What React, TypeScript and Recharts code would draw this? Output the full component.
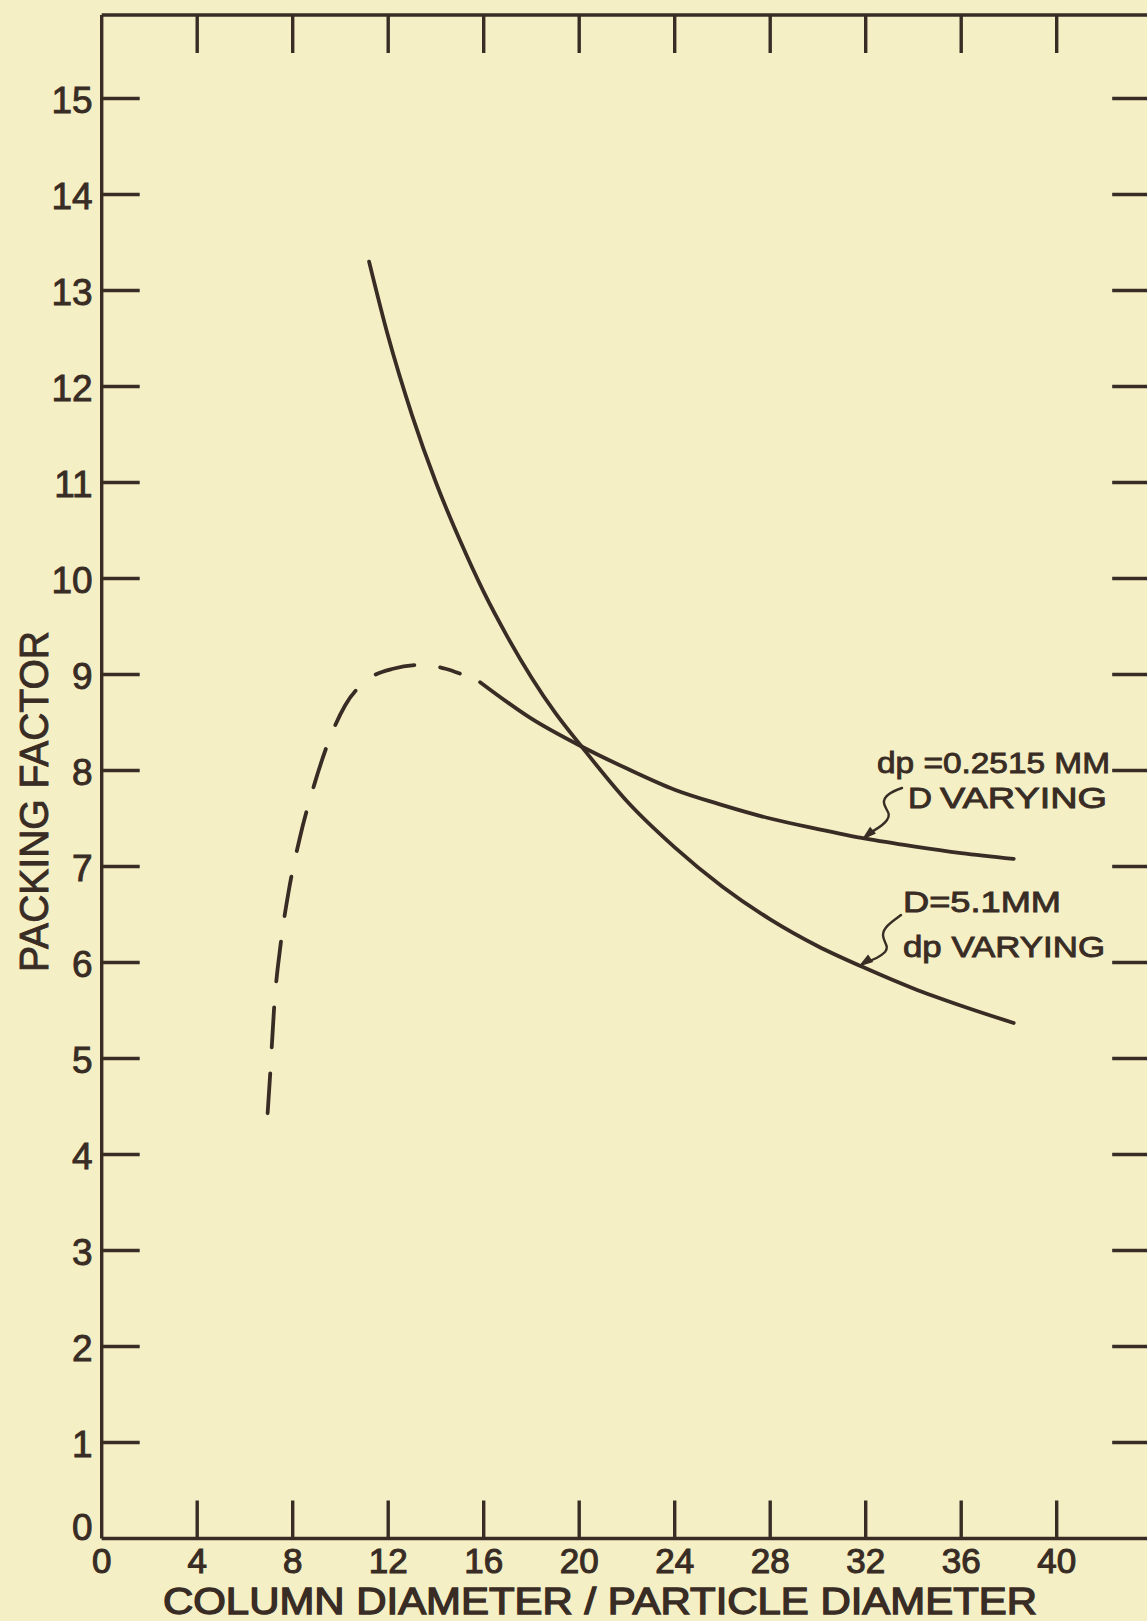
import { Line, LineChart, XAxis, YAxis } from "recharts";

// plot geometry (full-size pixels)
const CHART_W = 1200;
const CHART_H = 1621;
const PLOT_L = 101.7;
const PLOT_R = 1152.2;
const PLOT_T = 15;
const PLOT_B = 1538.5;

const INK = "#382c24";
const PAPER = "#f4efc5";
const FONT = "'Liberation Sans', Arial, sans-serif";

const X_DOMAIN: [number, number] = [0, 44];
const Y_DOMAIN: [number, number] = [0, 15.87];
const X_TICKS = [0, 4, 8, 12, 16, 20, 24, 28, 32, 36, 40];
const Y_TICKS = [0, 1, 2, 3, 4, 5, 6, 7, 8, 9, 10, 11, 12, 13, 14, 15];
const EDGE_X_TICKS = [4, 8, 12, 16, 20, 24, 28, 32, 36, 40];
const EDGE_Y_TICKS = [1, 2, 3, 4, 5, 6, 7, 8, 9, 10, 11, 12, 13, 14, 15];

// D = 5.1 mm, dp varying
const dpVarying = [
  { x: 11.2, y: 13.3 },
  { x: 12.0, y: 12.52 },
  { x: 13.0, y: 11.7 },
  { x: 14.0, y: 11.0 },
  { x: 15.0, y: 10.4 },
  { x: 16.0, y: 9.86 },
  { x: 17.0, y: 9.39 },
  { x: 18.0, y: 8.97 },
  { x: 19.0, y: 8.6 },
  { x: 20.1, y: 8.25 },
  { x: 22.0, y: 7.68 },
  { x: 24.0, y: 7.2 },
  { x: 26.0, y: 6.79 },
  { x: 28.0, y: 6.45 },
  { x: 30.0, y: 6.17 },
  { x: 32.0, y: 5.94 },
  { x: 34.0, y: 5.73 },
  { x: 36.0, y: 5.55 },
  { x: 38.2, y: 5.37 },
];

// dp = 0.2515 mm, D varying (measured part)
const dVarying = [
  { x: 15.85, y: 8.92 },
  { x: 18.0, y: 8.54 },
  { x: 20.1, y: 8.25 },
  { x: 22.0, y: 8.02 },
  { x: 24.0, y: 7.8 },
  { x: 26.0, y: 7.64 },
  { x: 28.0, y: 7.5 },
  { x: 30.0, y: 7.39 },
  { x: 32.0, y: 7.29 },
  { x: 34.0, y: 7.21 },
  { x: 36.0, y: 7.14 },
  { x: 38.2, y: 7.08 },
];

// dp = 0.2515 mm, extrapolated (dashed)
const dVaryingDashed = [
  { x: 6.95, y: 4.43 },
  { x: 7.05, y: 4.81 },
  { x: 7.23, y: 5.56 },
  { x: 7.5, y: 6.2 },
  { x: 7.83, y: 6.74 },
  { x: 8.3, y: 7.3 },
  { x: 8.9, y: 7.85 },
  { x: 9.5, y: 8.3 },
  { x: 10.2, y: 8.68 },
  { x: 11.1, y: 8.94 },
  { x: 12.2, y: 9.06 },
  { x: 13.4, y: 9.1 },
  { x: 14.4, y: 9.06 },
  { x: 15.0, y: 9.01 },
];

const TICK_LEN = 38;
const STROKE = 3.4;

function LeftTick(props: any) {
  const { x, y, payload } = props;
  const v = payload.value;
  return (
    <g>
      {v > 0 && <line x1={x} x2={x + TICK_LEN} y1={y} y2={y} stroke={INK} strokeWidth={STROKE} />}
      <text
        x={x - 9}
        y={v === 0 ? y - 11 : y + 2}
        textAnchor="end"
        dominantBaseline="central"
        fontSize={37}
        fontFamily={FONT}
        fill={INK}
        stroke={INK}
        strokeWidth={0.9}
      >
        {v}
      </text>
    </g>
  );
}

function RightTick(props: any) {
  const { x, y } = props;
  return <line x1={x - TICK_LEN - 2} x2={x} y1={y} y2={y} stroke={INK} strokeWidth={STROKE} />;
}

function BottomTick(props: any) {
  const { x, y, payload } = props;
  const v = payload.value;
  return (
    <g>
      {v > 0 && <line x1={x} x2={x} y1={y} y2={y - TICK_LEN} stroke={INK} strokeWidth={STROKE} />}
      <text
        x={x}
        y={y + 34}
        textAnchor="middle"
        fontSize={35}
        fontFamily={FONT}
        fill={INK}
        stroke={INK}
        strokeWidth={1.1}
      >
        {v}
      </text>
    </g>
  );
}

function TopTick(props: any) {
  const { x, y } = props;
  return <line x1={x} x2={x} y1={y} y2={y + TICK_LEN} stroke={INK} strokeWidth={STROKE} />;
}

function Leader({ d, tip, from }: { d: string; tip: [number, number]; from: [number, number] }) {
  const ang = Math.atan2(tip[1] - from[1], tip[0] - from[0]);
  const len = 15;
  const half = 4.5;
  const bx = tip[0] - len * Math.cos(ang);
  const by = tip[1] - len * Math.sin(ang);
  const nx = -Math.sin(ang) * half;
  const ny = Math.cos(ang) * half;
  return (
    <g>
      <path d={d} fill="none" stroke={INK} strokeWidth={2.4} strokeLinecap="round" />
      <polygon points={`${tip[0]},${tip[1]} ${bx + nx},${by + ny} ${bx - nx},${by - ny}`} fill={INK} />
    </g>
  );
}

export default function App() {
  const yAxisW = 60;
  const xAxisH = 50;
  const topAxisH = 10;
  const rightAxisW = 20;
  const margin = {
    top: PLOT_T - topAxisH,
    left: PLOT_L - yAxisW,
    right: CHART_W - PLOT_R - rightAxisW,
    bottom: CHART_H - PLOT_B - xAxisH,
  };
  const axisLine = { stroke: INK, strokeWidth: STROKE };
  const textInk = { fill: INK, stroke: INK, strokeWidth: 0.9 };

  return (
    <div style={{ position: "relative", width: 1147, height: 1621, overflow: "hidden", background: PAPER }}>
      <style>{`body{margin:0}`}</style>
      <LineChart width={CHART_W} height={CHART_H} margin={margin}>
        <XAxis
          xAxisId="bottom"
          type="number"
          dataKey="x"
          domain={X_DOMAIN}
          ticks={X_TICKS}
          interval={0}
          height={xAxisH}
          axisLine={axisLine}
          tickLine={false}
          tickSize={0}
          tickMargin={0}
          tick={<BottomTick />}
          allowDataOverflow
        />
        <XAxis
          xAxisId="top"
          orientation="top"
          type="number"
          dataKey="x"
          domain={X_DOMAIN}
          ticks={EDGE_X_TICKS}
          interval={0}
          height={topAxisH}
          axisLine={axisLine}
          tickLine={false}
          tickSize={0}
          tickMargin={0}
          tick={<TopTick />}
          allowDataOverflow
        />
        <YAxis
          yAxisId="left"
          type="number"
          domain={Y_DOMAIN}
          ticks={Y_TICKS}
          interval={0}
          width={yAxisW}
          axisLine={axisLine}
          tickLine={false}
          tickSize={0}
          tickMargin={0}
          tick={<LeftTick />}
          allowDataOverflow
        />
        <YAxis
          yAxisId="right"
          orientation="right"
          type="number"
          domain={Y_DOMAIN}
          ticks={EDGE_Y_TICKS}
          interval={0}
          width={rightAxisW}
          axisLine={axisLine}
          tickLine={false}
          tickSize={0}
          tickMargin={0}
          tick={<RightTick />}
          allowDataOverflow
        />
        <Line
          xAxisId="bottom"
          yAxisId="left"
          data={dVaryingDashed}
          dataKey="y"
          type="monotone"
          stroke={INK}
          strokeWidth={3.8}
          strokeDasharray="40 26"
          strokeLinecap="round"
          dot={false}
          activeDot={false}
          isAnimationActive={false}
        />
        <Line
          xAxisId="bottom"
          yAxisId="left"
          data={dVarying}
          dataKey="y"
          type="monotone"
          stroke={INK}
          strokeWidth={3.8}
          strokeLinecap="round"
          dot={false}
          activeDot={false}
          isAnimationActive={false}
        />
        <Line
          xAxisId="bottom"
          yAxisId="left"
          data={dpVarying}
          dataKey="y"
          type="monotone"
          stroke={INK}
          strokeWidth={3.8}
          strokeLinecap="round"
          dot={false}
          activeDot={false}
          isAnimationActive={false}
        />
      </LineChart>

      <svg
        width={1147}
        height={1621}
        style={{ position: "absolute", left: 0, top: 0, pointerEvents: "none" }}
        fontFamily={FONT}
      >
        <text
          x={163}
          y={1613.5}
          fontSize={36}
          textLength={874}
          lengthAdjust="spacingAndGlyphs"
          {...textInk}
          strokeWidth={1.3}
        >
          COLUMN DIAMETER / PARTICLE DIAMETER
        </text>
        <text
          transform="translate(48 972) rotate(-90)"
          fontSize={40}
          textLength={341}
          lengthAdjust="spacingAndGlyphs"
          {...textInk}
        >
          PACKING FACTOR
        </text>

        <text x={877} y={773} fontSize={30} textLength={233} lengthAdjust="spacingAndGlyphs" {...textInk}>
          dp =0.2515 MM
        </text>
        <text x={908} y={808} fontSize={30} textLength={24} lengthAdjust="spacingAndGlyphs" {...textInk}>
          D
        </text>
        <text x={940} y={808} fontSize={30} textLength={167} lengthAdjust="spacingAndGlyphs" {...textInk}>
          VARYING
        </text>
        <text x={903} y={912} fontSize={30} textLength={158} lengthAdjust="spacingAndGlyphs" {...textInk}>
          D=5.1MM
        </text>
        <text x={903} y={957} fontSize={30} textLength={202} lengthAdjust="spacingAndGlyphs" {...textInk}>
          dp VARYING
        </text>

        <Leader
          d="M902 788 C 893 791, 883 796, 884 803 C 885 810, 892 813, 887 820 C 883 826, 876 829, 870 833"
          from={[872, 831]}
          tip={[861.7, 840]}
        />
        <Leader
          d="M901 915 C 893 921, 883 927, 883 935 C 883 942, 890 946, 885 952 C 880 957, 873 960, 866 962"
          from={[868, 960]}
          tip={[858.3, 966.7]}
        />
      </svg>
    </div>
  );
}
